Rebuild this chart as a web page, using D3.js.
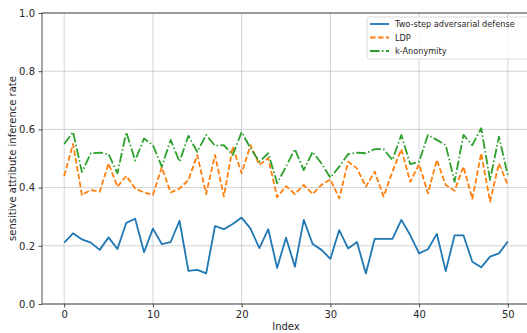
<!DOCTYPE html>
<html>
<head>
<meta charset="utf-8">
<script src="https://cdn.jsdelivr.net/npm/d3@7"></script>
<style>
  html, body { margin: 0; padding: 0; background: #fff; overflow: hidden; }
  svg { display: block; font-family: "DejaVu Sans", sans-serif; }
</style>
</head>
<body>
<svg id="chart" width="527" height="333"></svg>
<script>
// Inference rate of the sensitive attribute per index, one array per defense
const twoStep = [0.211, 0.243, 0.222, 0.211, 0.186, 0.229, 0.189, 0.279, 0.293, 0.178,
  0.259, 0.206, 0.213, 0.286, 0.114, 0.117, 0.105, 0.268, 0.257, 0.275,
  0.297, 0.259, 0.192, 0.257, 0.124, 0.228, 0.128, 0.289, 0.206, 0.186,
  0.155, 0.254, 0.191, 0.213, 0.105, 0.224, 0.224, 0.224, 0.289, 0.237,
  0.174, 0.188, 0.241, 0.113, 0.236, 0.236, 0.145, 0.126, 0.163, 0.174, 0.215];
const ldp = [0.440, 0.550, 0.375, 0.392, 0.386, 0.483, 0.403, 0.440, 0.397, 0.383,
  0.375, 0.470, 0.383, 0.397, 0.426, 0.512, 0.378, 0.512, 0.369, 0.541,
  0.449, 0.546, 0.478, 0.501, 0.367, 0.405, 0.378, 0.409, 0.378, 0.409,
  0.428, 0.363, 0.489, 0.466, 0.403, 0.455, 0.369, 0.455, 0.532, 0.420,
  0.480, 0.380, 0.495, 0.409, 0.389, 0.472, 0.361, 0.518, 0.352, 0.483, 0.409];
const kAnon = [0.550, 0.591, 0.453, 0.518, 0.520, 0.515, 0.449, 0.590, 0.493, 0.569,
  0.546, 0.472, 0.564, 0.489, 0.578, 0.523, 0.581, 0.544, 0.546, 0.512,
  0.591, 0.535, 0.489, 0.518, 0.415, 0.472, 0.532, 0.460, 0.523, 0.483,
  0.434, 0.472, 0.515, 0.520, 0.518, 0.532, 0.532, 0.495, 0.581, 0.481,
  0.489, 0.581, 0.564, 0.546, 0.420, 0.581, 0.546, 0.604, 0.426, 0.575, 0.443];

const seriesNames = ["Two-step adversarial defense", "LDP", "k-Anonymity"];
const seriesColors = ["#1f77b4", "#ff7f0e", "#2ca02c"];
const seriesDashes = [null, "5.55,2.4", "9.6,2.4,1.5,2.4"];
const xTicks = [0, 10, 20, 30, 40, 50];
const yTicks = [0.0, 0.2, 0.4, 0.6, 0.8, 1.0];

const series = [twoStep, ldp, kAnon];
const svg = d3.select("#chart");
const margin = { left: 42, top: 13, bottom: 29 };
const plotW = 488, plotH = 333 - margin.top - margin.bottom;

const x = d3.scaleLinear().domain([-2.5, 52.5]).range([margin.left, margin.left + plotW]);
const y = d3.scaleLinear().domain([0, 1]).range([margin.top + plotH, margin.top]);

// grid lines
const grid = svg.append("g");
grid.selectAll(".gx").data(xTicks).join("line")
  .attr("x1", d => x(d)).attr("x2", d => x(d))
  .attr("y1", y(0)).attr("y2", y(1))
  .attr("stroke", "#b0b0b0").attr("stroke-opacity", 0.7).attr("stroke-width", 0.8);
grid.selectAll(".gy").data(yTicks).join("line")
  .attr("x1", x(-2.5)).attr("x2", x(52.5))
  .attr("y1", d => y(d)).attr("y2", d => y(d))
  .attr("stroke", "#b0b0b0").attr("stroke-opacity", 0.7).attr("stroke-width", 0.8);

// axes
const xAxis = svg.append("g").attr("transform", `translate(0,${y(0)})`)
  .call(d3.axisBottom(x).tickValues(xTicks).tickSize(3.5).tickPadding(3.5).tickFormat(d3.format("d")));
const yAxis = svg.append("g").attr("transform", `translate(${x(-2.5)},0)`)
  .call(d3.axisLeft(y).tickValues(yTicks).tickSize(3.5).tickPadding(3.5).tickFormat(d3.format(".1f")));
[xAxis, yAxis].forEach(a => {
  a.selectAll("text").attr("font-size", 10).attr("fill", "#262626").attr("font-family", "DejaVu Sans");
  a.selectAll("line").attr("stroke", "#262626").attr("stroke-width", 0.8);
  a.select(".domain").remove();
});

// frame
svg.append("rect")
  .attr("x", x(-2.5)).attr("y", y(1))
  .attr("width", x(52.5) - x(-2.5)).attr("height", y(0) - y(1))
  .attr("fill", "none").attr("stroke", "#262626").attr("stroke-width", 0.8);

// series lines
const line = d3.line().x((d, i) => x(i)).y(d => y(d));
series.forEach((vals, k) => {
  svg.append("path").datum(vals)
    .attr("d", line)
    .attr("fill", "none")
    .attr("stroke", seriesColors[k])
    .attr("stroke-width", 1.8)
    .attr("stroke-linejoin", "round")
    .attr("stroke-dasharray", seriesDashes[k]);
});

// axis titles
svg.append("text").attr("x", x(25)).attr("y", 330)
  .attr("text-anchor", "middle").attr("font-size", 10).attr("fill", "#262626").text("Index");
svg.append("text")
  .attr("transform", `translate(16,${(y(0) + y(1)) / 2}) rotate(-90)`)
  .attr("text-anchor", "middle").attr("font-size", 10).attr("fill", "#262626")
  .text("sensitive attribute inference rate");

// legend
const lg = svg.append("g").attr("transform", "translate(367,17)");
lg.append("rect").attr("width", 165).attr("height", 42).attr("rx", 2)
  .attr("fill", "#fff").attr("fill-opacity", 0.8).attr("stroke", "#d0d0d0").attr("stroke-width", 0.8);
seriesNames.forEach((name, k) => {
  const cy = 7 + k * 13.5;
  lg.append("line").attr("x1", 3).attr("x2", 22).attr("y1", cy).attr("y2", cy)
    .attr("stroke", seriesColors[k]).attr("stroke-width", 1.8)
    .attr("stroke-dasharray", seriesDashes[k]);
  lg.append("text").attr("x", 28).attr("y", cy + 3.2)
    .attr("font-size", 8.2).attr("fill", "#262626").text(name);
});
</script>
</body>
</html>
